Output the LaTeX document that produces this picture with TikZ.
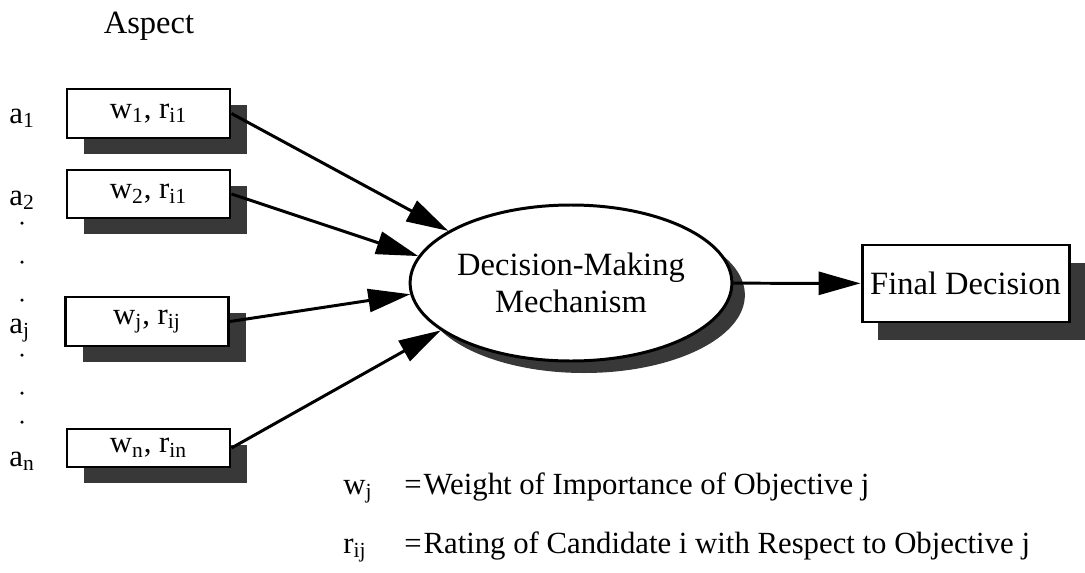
\documentclass[tikz,border=0pt]{standalone}
\usepackage{fontspec}
\setmainfont{Liberation Serif}
\usetikzlibrary{positioning, arrows.meta, shapes.geometric, shadows}

\newcommand{\bigtext}{\fontsize{18.5}{21}\selectfont}
\newcommand{\boxtext}{\fontsize{17.5}{20}\selectfont}
\newcommand{\legtext}{\fontsize{17.5}{20}\selectfont}

\begin{document}
\begin{tikzpicture}[>={Triangle[length=0.84cm, width=0.46cm]}, line width=1.7pt,
    aspectbox/.style={draw, fill=white,
        minimum width=3.26cm,
        minimum height=0.98cm,
        inner sep=0pt,
        font=\boxtext,
        drop shadow={shadow xshift=0.34cm, shadow yshift=-0.32cm,
            fill=black!78, opacity=1}
    },
    aspectlabel/.style={anchor=base west, inner sep=0pt, font=\boxtext}
]
    \useasboundingbox (0,0) rectangle (21.7,-11.46);

    \node [anchor=base, font=\bigtext] (aspect) at (2.98,-0.66) {Aspect};

    \node [aspectbox] (w1) at (2.97,-2.27) {w\textsubscript{1}, r\textsubscript{i1}};
    \node [aspectbox, minimum height=0.96cm] (w2) at (2.97,-3.88) {w\textsubscript{2}, r\textsubscript{i1}};
    \node [aspectbox] (wj) at (2.94,-6.43) {w\textsubscript{j}, r\textsubscript{ij}};
    \node [aspectbox, minimum height=0.76cm] (wn) at (2.97,-8.96) {w\textsubscript{n}, r\textsubscript{in}};

    \node [aspectlabel] (a1) at (0.16,-2.46) {a\textsubscript{1}};
    \node [aspectlabel] (a2) at (0.16,-4.10) {a\textsubscript{2}};
    \node [aspectlabel] (aj) at (0.16,-6.66) {a\textsubscript{j}};
    \node [aspectlabel] (an) at (0.16,-9.32) {a\textsubscript{n}};
    \foreach \y in {-4.46, -5.24, -6.0, -7.1, -7.86, -8.44}
        \fill (0.44,\y) circle (0.035);

    \node [draw, fill=white,
        ellipse,
        minimum width=5.16cm,
        minimum height=3.12cm,
        inner sep=0pt,
        font=\bigtext,
        align=center,
        drop shadow={shadow xshift=0.26cm, shadow yshift=-0.24cm,
            fill=black!78, opacity=1}
    ] (dm) at (11.42,-5.66) {Decision-Making\\Mechanism};

    \node [draw, fill=white,
        minimum width=4.14cm,
        minimum height=1.54cm,
        inner sep=0pt,
        font=\bigtext,
        drop shadow={shadow xshift=0.32cm, shadow yshift=-0.36cm,
            fill=black!78, opacity=1}
    ] (fd) at (19.31,-5.67) {Final Decision};

    % arrows into the mechanism
    \draw[->] (w1.east) -- (dm.157);
    \draw[->] (w2.east) -- (dm.170);
    \draw[->] (wj.east) -- (dm.184);
    \draw[->] (wn.east) -- (dm.200);
    \draw[->] (dm) -- (fd);

    \node [anchor=base west, inner sep=0pt, font=\legtext] (wdef) at (6.84,-9.88)
        {\makebox[1.22cm][l]{w\textsubscript{j}}=\kern1pt Weight of Importance of Objective j};
    \node [anchor=base west, inner sep=0pt, font=\legtext] (rdef) at (6.84,-11.06)
        {\makebox[1.22cm][l]{r\textsubscript{ij}}=\kern1pt Rating of Candidate i with Respect to Objective j};
\end{tikzpicture}
\end{document}
